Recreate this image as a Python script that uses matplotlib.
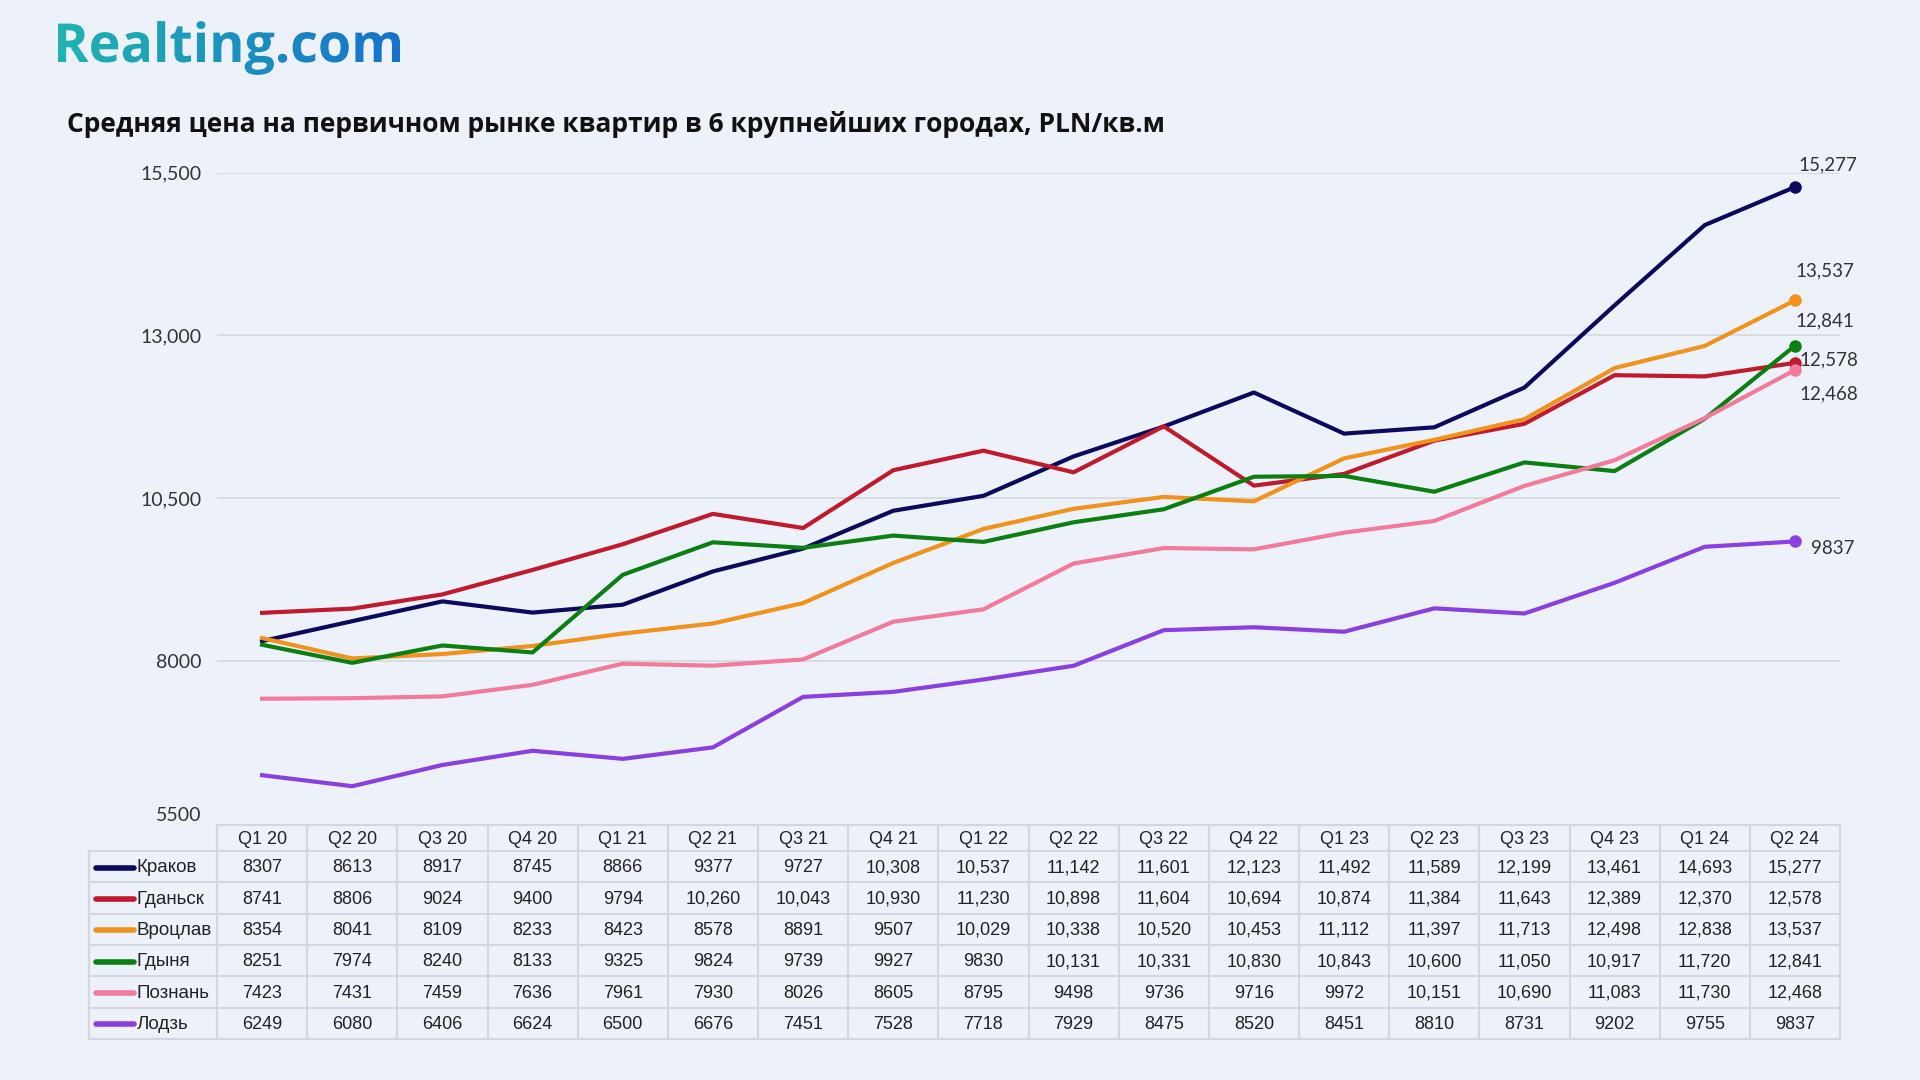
import numpy as np
import matplotlib.pyplot as plt
from matplotlib.textpath import TextPath
from matplotlib.patches import PathPatch
from matplotlib.font_manager import FontProperties
from matplotlib.transforms import Affine2D, ScaledTranslation
from matplotlib.colors import LinearSegmentedColormap

# данные
quarters = ["Q1 20", "Q2 20", "Q3 20", "Q4 20", "Q1 21", "Q2 21", "Q3 21", "Q4 21", "Q1 22",
            "Q2 22", "Q3 22", "Q4 22", "Q1 23", "Q2 23", "Q3 23", "Q4 23", "Q1 24", "Q2 24"]
cities = ["Краков", "Гданьск", "Вроцлав", "Гдыня", "Познань", "Лодзь"]
krakow = [8307, 8613, 8917, 8745, 8866, 9377, 9727, 10308, 10537, 11142, 11601, 12123, 11492, 11589, 12199, 13461, 14693, 15277]
gdansk = [8741, 8806, 9024, 9400, 9794, 10260, 10043, 10930, 11230, 10898, 11604, 10694, 10874, 11384, 11643, 12389, 12370, 12578]
wroclaw = [8354, 8041, 8109, 8233, 8423, 8578, 8891, 9507, 10029, 10338, 10520, 10453, 11112, 11397, 11713, 12498, 12838, 13537]
gdynia = [8251, 7974, 8240, 8133, 9325, 9824, 9739, 9927, 9830, 10131, 10331, 10830, 10843, 10600, 11050, 10917, 11720, 12841]
poznan = [7423, 7431, 7459, 7636, 7961, 7930, 8026, 8605, 8795, 9498, 9736, 9716, 9972, 10151, 10690, 11083, 11730, 12468]
lodz = [6249, 6080, 6406, 6624, 6500, 6676, 7451, 7528, 7718, 7929, 8475, 8520, 8451, 8810, 8731, 9202, 9755, 9837]
series = [krakow, gdansk, wroclaw, gdynia, poznan, lodz]
yticks = [5500, 8000, 10500, 13000, 15500]
title = "Средняя цена на первичном рынке квартир в 6 крупнейших городах, PLN/кв.м"

colors = ["#0B0A5E", "#C01A2C", "#F0921C", "#0B7F12", "#F27A9B", "#8A3FE2"]
# смещения подписей последних точек (пиксели)
label_off = [(33, -22), (34, -3), (30, -30), (30, -25), (34, 24), (38, 7)]

def fmt(v):
    return f"{v:,}" if v >= 10000 else str(v)

W, H = 1920, 1080
bg = "#EDF2FA"
fig = plt.figure(figsize=(19.2, 10.8), dpi=100, facecolor=bg)

over = fig.add_axes([0, 0, 1, 1])
over.axis("off")

# логотип с градиентом
fp = FontProperties(family="Open Sans", weight="bold")
tp = TextPath((0, 0), "Realting.com", size=100, prop=fp)
ext = tp.get_extents()
s = 342 / ext.width
path = Affine2D().translate(-ext.x0, 0).scale(s, -s).translate(58, 62).transform_path(tp)
patch = PathPatch(path, fc="none", ec="none")
over.add_patch(patch)
cmap = LinearSegmentedColormap.from_list("logo", ["#21B4B1", "#1672CC"])
im = over.imshow(np.linspace(0, 1, 256).reshape(1, -1), cmap=cmap,
                 extent=(58, 400, 85, 5), aspect="auto")
im.set_clip_path(patch)
over.set_xlim(0, W)
over.set_ylim(H, 0)

fig.text(67 / W, 1 - 124 / H, title, fontsize=19, fontweight="bold",
         family=["Open Sans", "DejaVu Sans"], va="center", color="#111111")

# таблица
x0, x1 = 217, 1840
xl = 89
colw = (x1 - x0) / len(quarters)
ytop, yh = 825, 851
rowh = (1039 - yh) / len(cities)
grid_c = "#D3D6DC"
over.plot([x0, x1], [ytop, ytop], color=grid_c, lw=1.5)
for i in range(len(cities) + 1):
    yy = yh + i * rowh
    over.plot([xl, x1], [yy, yy], color=grid_c, lw=1.5)
over.plot([xl, xl], [yh, yh + len(cities) * rowh], color=grid_c, lw=1.5)
for k in range(len(quarters) + 1):
    xx = x0 + k * colw
    over.plot([xx, xx], [ytop, yh + len(cities) * rowh], color=grid_c, lw=1.5)
tfont = ["Liberation Sans", "DejaVu Sans"]
for k, q in enumerate(quarters):
    over.text(x0 + (k + 0.5) * colw, (ytop + yh) / 2 + 1, q, ha="center", va="center",
              fontsize=13, family=tfont, color="#222222")
for i, (name, vals, c) in enumerate(zip(cities, series, colors)):
    yc = yh + (i + 0.5) * rowh + 1
    over.plot([96, 134], [yc, yc], color=c, lw=4, solid_capstyle="round")
    over.text(137, yc, name, ha="left", va="center", fontsize=13.5, family=tfont, color="#222222")
    for k, v in enumerate(vals):
        over.text(x0 + (k + 0.5) * colw, yc, fmt(v), ha="center", va="center",
                  fontsize=13, family=tfont, color="#222222")
over.set_xlim(0, W)
over.set_ylim(H, 0)

# график
ybot = 824
ax = fig.add_axes([x0 / W, (H - ybot) / H, (x1 - x0) / W, (ybot - 172.5) / H])
ax.set_facecolor("none")
x = np.arange(len(quarters))
for t in yticks[1:]:
    ax.axhline(t, color="#D6D9DE", lw=1.3, zorder=0)
lfont = ["Lato", "DejaVu Sans"]
for vals, c, (dx, dy) in zip(series, colors, label_off):
    ax.plot(x, vals, color=c, lw=3, zorder=2)
    ax.plot(x[-1], vals[-1], "o", ms=8, color=c, zorder=3, clip_on=False)
    ax.annotate(fmt(vals[-1]), (x[-1], vals[-1]), xytext=(dx * 0.72, -dy * 0.72),
                textcoords="offset points", ha="center", va="center",
                fontsize=13.5, color="#333333", family=lfont)
ax.set_xlim(-0.5, len(quarters) - 0.5)
ax.set_ylim(yticks[0], yticks[-1])
ax.set_yticks(yticks, [fmt(t) for t in yticks])
ax.set_xticks([])
ax.tick_params(length=0, pad=11, labelsize=14, labelcolor="#333333")
labs = ax.get_yticklabels()
for lab in labs:
    lab.set_family(lfont)
# нижняя подпись чуть выше линии таблицы
labs[0].set_transform(labs[0].get_transform() + ScaledTranslation(0, 10 / 100, fig.dpi_scale_trans))
for sp in ax.spines.values():
    sp.set_visible(False)

fig.savefig("out.png", dpi=100, facecolor=bg)
